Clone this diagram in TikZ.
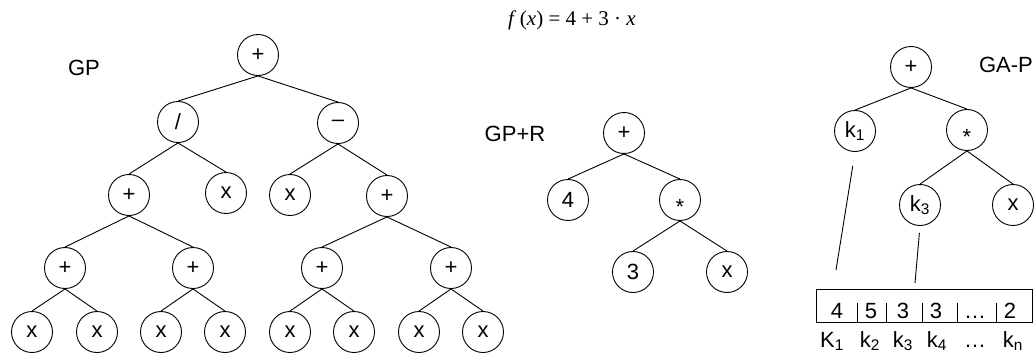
\documentclass[tikz,border=0pt]{standalone}
\usepackage{fontspec}
\setmainfont{Liberation Sans}
\newfontfamily\formulafont{Liberation Serif}
\newcommand{\mulsign}{\raisebox{-0.65em}[0pt][0pt]{*}}

\begin{document}
\begin{tikzpicture}[x=1pt, y=-1pt, line width=0.9pt,
  every node/.style={font=\fontsize{22}{26}\selectfont},
  op/.style={shape=circle, draw=black, line width=0.9pt, minimum size=41pt, inner sep=0pt}]
\useasboundingbox (0,0) rectangle (1036,353);

\node[anchor=base] (fx) at (572,26) {\formulafont\fontsize{21}{24}\selectfont\textit{f}\,(\textit{x}) = 4 + 3 · \textit{x}};
\node[anchor=base] (lgp) at (84,75) {GP};
\node[anchor=base] (lgpr) at (515,141) {GP+R};
\node[anchor=base] (lgap) at (1006,73) {GA-P};

% plain GP tree
\node[op] (g0) at (258,55) {+};
\node[op] (g1) at (178,122) {/};
\node[op] (g2) at (338,123) {\textendash};
\node[op] (g3) at (129,195) {+};
\node[op] (g4) at (226,193) {x};
\node[op] (g5) at (290,195) {x};
\node[op] (g6) at (387,196) {+};
\node[op] (g7) at (65,268) {+};
\node[op] (g8) at (193,268) {+};
\node[op] (g9) at (322,268) {+};
\node[op] (g10) at (451,268) {+};
\node[op] (g11) at (32,332) {x};
\node[op] (g12) at (97,332) {x};
\node[op] (g13) at (161,332) {x};
\node[op] (g14) at (225,332) {x};
\node[op] (g15) at (290,332) {x};
\node[op] (g16) at (354,332) {x};
\node[op] (g17) at (419,332) {x};
\node[op] (g18) at (483,332) {x};
\draw (g0.south) -- (g1.north);
\draw (g0.south) -- (g2.north);
\draw (g1.south) -- (g3.north);
\draw (g1.south) -- (g4.north);
\draw (g2.south) -- (g5.north);
\draw (g2.south) -- (g6.north);
\draw (g3.south) -- (g7.north);
\draw (g3.south) -- (g8.north);
\draw (g6.south) -- (g9.north);
\draw (g6.south) -- (g10.north);
\draw (g7.south) -- (g11.north);
\draw (g7.south) -- (g12.north);
\draw (g8.south) -- (g13.north);
\draw (g8.south) -- (g14.north);
\draw (g9.south) -- (g15.north);
\draw (g9.south) -- (g16.north);
\draw (g10.south) -- (g17.north);
\draw (g10.south) -- (g18.north);

% GP with random constants
\node[op] (r0) at (624,133) {+};
\node[op] (r1) at (568,200) {4};
\node[op] (r2) at (680,200) {\mulsign};
\node[op] (r3) at (633,272) {3};
\node[op] (r4) at (727,272) {x};
\draw (r0.south) -- (r1.north);
\draw (r0.south) -- (r2.north);
\draw (r2.south) -- (r3.north);
\draw (r2.south) -- (r4.north);

% GA-P: tree with constant slots
\node[op] (a0) at (911,67) {+};
\node[op] (a1) at (855,131) {k\textsubscript{1}};
\node[op] (a2) at (967,130) {\mulsign};
\node[op] (a3) at (920,205) {k\textsubscript{3}};
\node[op] (a4) at (1013,205) {x};
\draw (a0.south) -- (a1.north);
\draw (a0.south) -- (a2.north);
\draw (a2.south) -- (a3.north);
\draw (a2.south) -- (a4.north);

% constant genome
\node[draw, line width=0.9pt, minimum width=216pt, minimum height=33pt, inner sep=0pt] (genome) at (924,305.5) {};
\foreach \x in {857,886,922,957,996}
  \draw (\x,303) -- (\x,322);
\node[anchor=base] (v1) at (837,318) {4};
\node[anchor=base] (v2) at (871,318) {5};
\node[anchor=base] (v3) at (903,318) {3};
\node[anchor=base] (v4) at (936,318) {3};
\node[anchor=base] (v5) at (975,318) {\ldots};
\node[anchor=base] (v6) at (1010,318) {2};
\node[anchor=base] (n1) at (832,347) {K\textsubscript{1}};
\node[anchor=base] (n2) at (870,347) {k\textsubscript{2}};
\node[anchor=base] (n3) at (903,347) {k\textsubscript{3}};
\node[anchor=base] (n4) at (937,347) {k\textsubscript{4}};
\node[anchor=base] (n5) at (975,347) {\ldots};
\node[anchor=base] (n6) at (1013,347) {k\textsubscript{n}};

\coordinate (e1) at (836,270);
\coordinate (e3) at (915,283);
\draw[shorten <=14pt] (a1.south) -- (e1);
\draw[shorten <=7pt] (a3.south) -- (e3);
\end{tikzpicture}
\end{document}
